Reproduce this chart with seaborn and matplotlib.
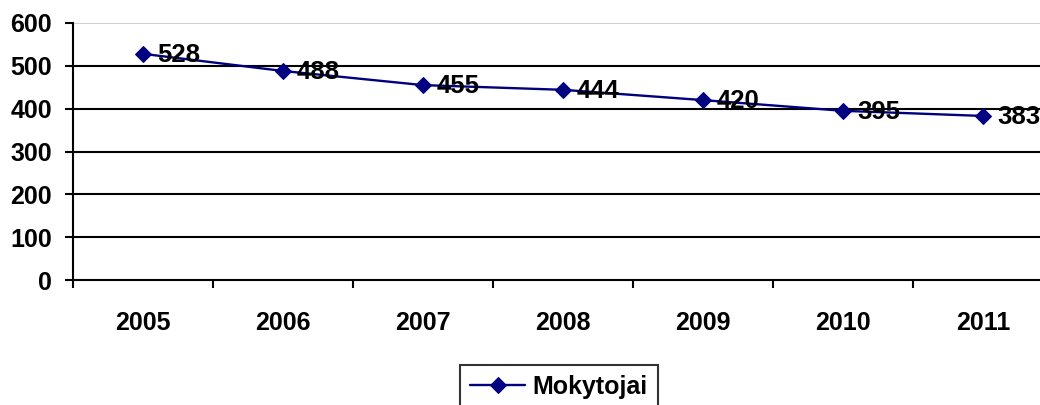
import matplotlib
matplotlib.use("Agg")
import matplotlib.pyplot as plt
import seaborn as sns
import pandas as pd
from matplotlib.ticker import FixedLocator

years = ["2005", "2006", "2007", "2008", "2009", "2010", "2011"]
values = [528, 488, 455, 444, 420, 395, 383]
series_name = "Mokytojai"
y_ticks = [0, 100, 200, 300, 400, 500, 600]

sns.set_theme(style="white")
plt.rcParams['font.family'] = ['Liberation Sans', 'DejaVu Sans']
plt.rcParams['text.color'] = 'black'
plt.rcParams['xtick.color'] = 'black'
plt.rcParams['ytick.color'] = 'black'

df = pd.DataFrame({"pos": list(range(len(years))), "value": values, "series": series_name})

fig = plt.figure(figsize=(10.4, 4.05), dpi=100)
ax = fig.add_axes([73/1040, (405-280)/405, 980/1040, 257/405])

navy = "#000080"
sns.lineplot(data=df, x="pos", y="value", ax=ax, color=navy, linewidth=1.7,
             marker="D", markersize=8.5, markeredgecolor=navy, markerfacecolor=navy,
             label=series_name, legend=False, clip_on=False, zorder=5)

ax.set_xlim(-0.5, len(years) - 0.5)
ax.set_ylim(0, 600)
ax.set_yticks(y_ticks)
ax.set_yticklabels([str(t) for t in y_ticks], fontsize=18, fontweight="bold", color="black")
ax.set_xticks(range(len(years)))
ax.set_xticklabels(years, fontsize=18, fontweight="bold", color="black")
ax.tick_params(axis="x", which="major", length=0, pad=22)
ax.xaxis.set_minor_locator(FixedLocator([i - 0.5 for i in range(len(years) + 1)]))
ax.tick_params(axis="x", which="minor", length=6, width=1.5, color="black", direction="out", bottom=True)
ax.tick_params(axis="y", which="major", length=6, width=1.5, color="black", direction="out", left=True, pad=9)
ax.set_xlabel("")
ax.set_ylabel("")

for t in y_ticks[1:-1]:
    ax.axhline(t, color="black", linewidth=1.5, zorder=1)
ax.axhline(600, color="#c8c8c8", linewidth=1.2, zorder=1)

for s in ["top", "right"]:
    ax.spines[s].set_visible(False)
for s in ["left", "bottom"]:
    ax.spines[s].set_color("black")
    ax.spines[s].set_linewidth(1.5)

for i, v in enumerate(values):
    ax.annotate(str(v), (i, v), xytext=(10, -0.5), textcoords="offset points",
                ha="left", va="center", fontsize=18.5, fontweight="bold", color="black", zorder=6)

handles, labels = ax.get_legend_handles_labels()
leg = fig.legend(handles, labels, loc="upper left", bbox_to_anchor=(460/1040, 1 - 365/405),
                 borderaxespad=0, frameon=True, fancybox=False, edgecolor="black",
                 prop={"weight": "bold", "size": 18}, handlelength=2.2, handletextpad=0.3,
                 borderpad=0.4, labelcolor="black")
leg.get_frame().set_linewidth(1.5)

fig.savefig("out.png", dpi=100)
